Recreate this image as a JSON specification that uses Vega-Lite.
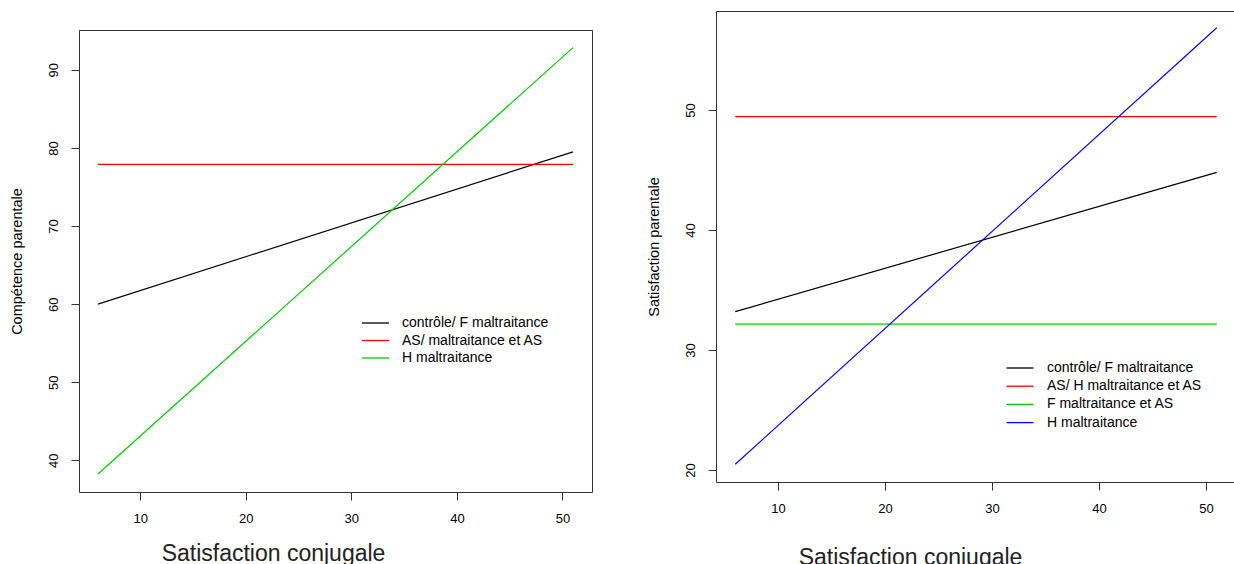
{
  "$schema": "https://vega.github.io/schema/vega-lite/v6.json",
  "background": "white",
  "padding": {"left": 8, "top": 10, "right": 0, "bottom": 0},
  "spacing": 52,
  "config": {
    "font": "Liberation Sans",
    "view": {"stroke": "#333", "strokeWidth": 1},
    "axis": {"grid": false, "domain": false, "tickColor": "#333", "tickSize": 8, "tickWidth": 1, "labelFontSize": 13, "labelColor": "#000", "titleColor": "#000", "titleFontWeight": "normal", "labelFlush": false, "labelOverlap": false},
    "axisX": {"labelPadding": 12, "titleFontSize": 23, "titleX": 194, "titleAlign": "center", "titleBaseline": "alphabetic", "titleColor": "#222"},
    "axisY": {"labelAngle": 270, "labelAlign": "center", "labelBaseline": "middle", "labelPadding": 18, "titleFontSize": 14.5, "titlePadding": 23},
    "legend": {"orient": "none", "padding": 0, "symbolType": "M-3,0H3", "symbolSize": 81, "symbolStrokeWidth": 1.3, "labelFontSize": 14, "labelColor": "#000", "rowPadding": 3.5, "labelLimit": 400}
  },
  "resolve": {"scale": {"color": "independent"}, "legend": {"color": "independent"}},
  "hconcat": [
    {
      "spacing": 17,
      "vconcat": [
        {
          "width": 513,
          "height": 1,
          "view": {"stroke": null},
          "data": {"values": [{}]},
          "mark": {"type": "rule", "opacity": 0},
          "encoding": {}
        },
        {
          "width": 513,
          "height": 462,
          "data": {"values": [
            {"x": 6, "y": 60.0, "g": "contrôle/ F maltraitance"},
            {"x": 51, "y": 79.5, "g": "contrôle/ F maltraitance"},
            {"x": 6, "y": 77.9, "g": "AS/ maltraitance et AS"},
            {"x": 51, "y": 77.9, "g": "AS/ maltraitance et AS"},
            {"x": 6, "y": 38.25, "g": "H maltraitance"},
            {"x": 51, "y": 92.85, "g": "H maltraitance"}
          ]},
          "mark": {"type": "line", "strokeWidth": 1.2},
          "encoding": {
            "x": {"field": "x", "type": "quantitative", "scale": {"domain": [4.2, 52.8], "nice": false, "zero": false}, "axis": {"values": [10, 20, 30, 40, 50], "title": "Satisfaction conjugale", "titleY": 68}},
            "y": {"field": "y", "type": "quantitative", "scale": {"domain": [35.95, 95.1], "nice": false, "zero": false}, "axis": {"values": [40, 50, 60, 70, 80, 90], "title": "Compétence parentale"}},
            "color": {"field": "g", "type": "nominal", "scale": {"domain": ["contrôle/ F maltraitance", "AS/ maltraitance et AS", "H maltraitance"], "range": ["#000000", "#FF0000", "#00CD00"]}, "legend": {"title": null, "legendX": 289.5, "legendY": 305, "labelOffset": 19.5}}
          }
        }
      ]
    },
    {
      "width": 520,
      "height": 471,
      "data": {"values": [
        {"x": 6, "y": 33.2, "g": "contrôle/ F maltraitance"},
        {"x": 51, "y": 44.8, "g": "contrôle/ F maltraitance"},
        {"x": 6, "y": 49.45, "g": "AS/ H maltraitance et AS"},
        {"x": 51, "y": 49.45, "g": "AS/ H maltraitance et AS"},
        {"x": 6, "y": 32.15, "g": "F maltraitance et AS"},
        {"x": 51, "y": 32.15, "g": "F maltraitance et AS"},
        {"x": 6, "y": 20.48, "g": "H maltraitance"},
        {"x": 51, "y": 56.85, "g": "H maltraitance"}
      ]},
      "mark": {"type": "line", "strokeWidth": 1.2},
      "encoding": {
        "x": {"field": "x", "type": "quantitative", "scale": {"domain": [4.2, 52.8], "nice": false, "zero": false}, "axis": {"values": [10, 20, 30, 40, 50], "title": "Satisfaction conjugale", "titleY": 82, "titleX": 194}},
        "y": {"field": "y", "type": "quantitative", "scale": {"domain": [19.0, 58.25], "nice": false, "zero": false}, "axis": {"values": [20, 30, 40, 50], "title": "Satisfaction parentale"}},
        "color": {"field": "g", "type": "nominal", "scale": {"domain": ["contrôle/ F maltraitance", "AS/ H maltraitance et AS", "F maltraitance et AS", "H maltraitance"], "range": ["#000000", "#FF0000", "#00CD00", "#0000FF"]}, "legend": {"title": null, "legendX": 297, "legendY": 350, "labelOffset": 20, "rowPadding": 4.2}}
      }
    }
  ]
}
